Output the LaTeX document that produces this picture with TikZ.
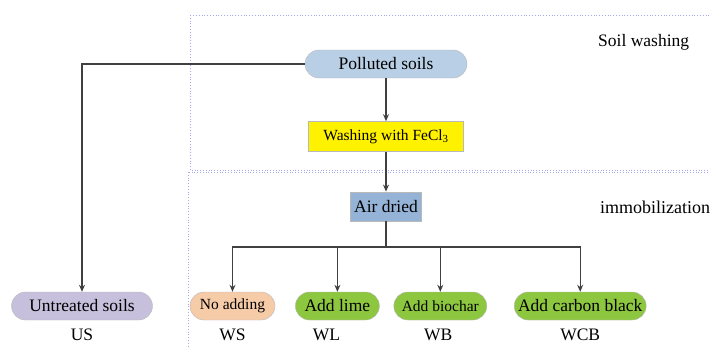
\documentclass[tikz,border=0pt]{standalone}
\usepackage{fontspec}
\setmainfont{Liberation Serif}
\usetikzlibrary{shapes,arrows,arrows.meta,positioning,calc}
\usepackage{xcolor}
\definecolor{linegray}{HTML}{404040}
\definecolor{pollblue}{HTML}{B9CFE5}
\definecolor{airblue}{HTML}{95B3D7}
\definecolor{lavender}{HTML}{C6C0DC}
\definecolor{peach}{HTML}{F6CBA8}
\definecolor{leafgreen}{HTML}{8DC63F}
\definecolor{framecol}{HTML}{A4A8EE}

\begin{document}
\begin{tikzpicture}[
  x=1pt, y=-1pt,
  pill/.style={rectangle, draw=gray!55, rounded corners=14pt, minimum height=28pt, align=center, font=\fontsize{17.5}{20}\selectfont},
  box/.style={rectangle, draw=gray!55, minimum height=30pt, align=center, font=\fontsize{17.5}{20}\selectfont},
  tag/.style={font=\fontsize{17.5}{20}\selectfont, inner sep=0pt},
  frame/.style={draw=framecol, dotted, line width=0.8pt},
  arrow/.style={-{Stealth[length=7pt,width=6pt]}, line width=1.1pt, draw=linegray}
]
  \clip (0,0) rectangle (710,348);
  % Frames
  \draw[frame] (190,15) rectangle (730,170);
  \draw[frame] (188,172) rectangle (730,370);
  \node[tag, anchor=west] (washlabel) at (598,42) {Soil washing};
  \node[tag, anchor=west, font=\fontsize{18}{20}\selectfont] (immolabel) at (600,207) {immobilization};
  % Washing step
  \node[pill, fill=pollblue, minimum width=162pt] (poll) at (386,64) {Polluted soils};
  \node[box, fill=yellow, minimum width=155pt, font=\fontsize{15.5}{18}\selectfont, below=43pt of poll] (wash) {Washing with FeCl\textsubscript{3}};
  \node[box, fill=airblue, minimum width=71pt, minimum height=29pt, below=40pt of wash] (air) {Air dried};
  % Treatments
  \node[pill, fill=lavender, minimum width=141pt] (us) at (82,306) {Untreated soils};
  \node[pill, fill=peach, minimum width=85pt, font=\fontsize{15.5}{18}\selectfont] (noadd) at (232.5,306) {No adding};
  \node[pill, fill=leafgreen, minimum width=84pt, right=20pt of noadd] (lime) {Add lime};
  \node[pill, fill=leafgreen, minimum width=93pt, font=\fontsize{15.5}{18}\selectfont, right=14pt of lime] (biochar) {Add biochar};
  \node[pill, fill=leafgreen, minimum width=132pt, right=27pt of biochar] (carbon) {Add carbon black};
  % Sample names
  \node[tag, below=9pt of us] (uslabel) {US};
  \node[tag, below=9pt of noadd] (wslabel) {WS};
  \node[tag, below=9pt of lime, xshift=-11pt] (wllabel) {WL};
  \node[tag, below=9pt of biochar, xshift=-2pt] (wblabel) {WB};
  \node[tag, below=9pt of carbon] (wcblabel) {WCB};
  % Arrows
  \draw[arrow] (poll.west) -| (us.north);
  \draw[arrow] (poll) -- (wash);
  \draw[arrow] (wash) -- (air);
  \draw[arrow] (air.south) -- ++(0,26) -| (noadd.north);
  \draw[arrow] (air.south) -- ++(0,26) -| (lime.north);
  \draw[arrow] (air.south) -- ++(0,26) -| (biochar.north);
  \draw[arrow] (air.south) -- ++(0,26) -| (carbon.north);
\end{tikzpicture}
\end{document}
